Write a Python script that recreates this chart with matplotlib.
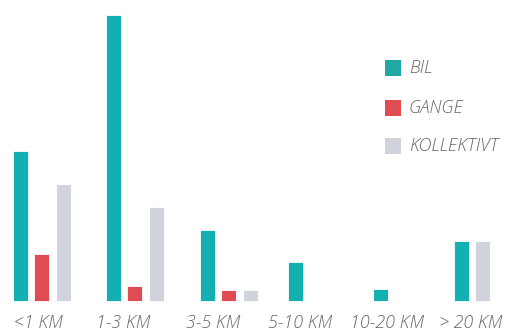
import matplotlib
matplotlib.use("Agg")
import matplotlib.pyplot as plt
from matplotlib.patches import Rectangle

categories = ["<1 KM", "1-3 KM", "3-5 KM", "5-10 KM", "10-20 KM", "> 20 KM"]
series_names = ["BIL", "GANGE", "KOLLEKTIVT"]
bil = [150, 286, 71, 39, 12, 60]
gange = [47, 15, 11, 0, 0, 0]
kollektivt = [117, 94, 11, 0, 0, 60]

colors = ["#12B0B1", "#E04C53", "#D0D3DC"]
legend_colors = ["#22A8A2", "#E04C53", "#D0D3DC"]
text_color = "#666666"

# layout (pixel units)
group_centers = [41.5, 134.5, 228.5, 295, 380, 472]
label_centers = [38, 123.5, 213.5, 300.5, 387.5, 470.5]
bar_w = 15
step = 21.5
baseline = 301  # px from top
W, H = 507, 333

fig = plt.figure(figsize=(W / 100, H / 100), dpi=100)
ax = fig.add_axes([0, 0, 1, 1])
ax.set_xlim(0, W)
ax.set_ylim(-(H - baseline), baseline)
ax.axis("off")

series = [bil, gange, kollektivt]
for gi, gc in enumerate(group_centers):
    present = [si for si in range(3) if series[si][gi] > 0]
    n = len(present)
    for k, si in enumerate(present):
        x = gc + (k - (n - 1) / 2) * step
        ax.bar(x, series[si][gi], width=bar_w, color=colors[si],
               edgecolor="#ffffff", linewidth=0.6)

fp = dict(family="Open Sans", style="italic", weight="light", color=text_color)
for lc, cat in zip(label_centers, categories):
    ax.text(lc, -(323 - baseline), cat, ha="center", va="center", fontsize=13, **fp)

leg_y = [68, 108, 146]
for name, c, ly in zip(series_names, legend_colors, leg_y):
    ax.add_patch(Rectangle((385, baseline - ly - 8), 16, 16, color=c, lw=0))
    ax.text(409, baseline - ly, name, ha="left", va="center", fontsize=13, **fp)

fig.savefig("out.png", dpi=100)
